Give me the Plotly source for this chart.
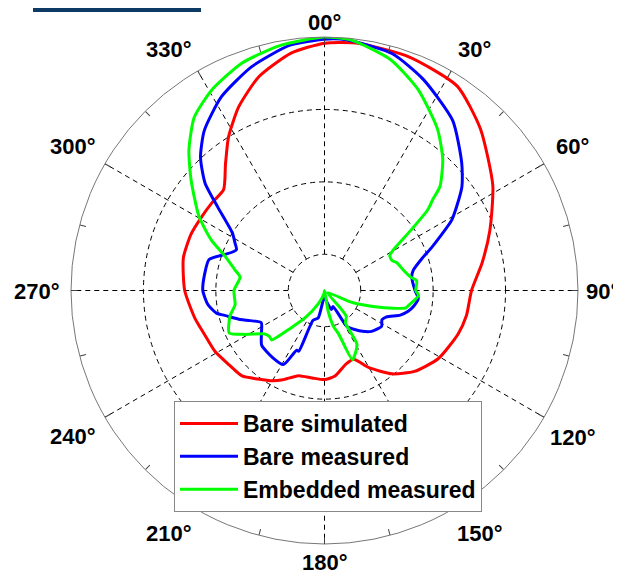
import plotly.graph_objects as go

# ---------------- data (dB vs angle in degrees, clockwise from top) -------------
red_theta = [0, 8, 20, 33, 44, 58, 70, 80, 90, 100, 108, 121, 132, 141, 150, 157, 164, 173,
             180, 188, 197, 205, 210, 217, 224, 232, 241, 250, 258, 270, 283, 293, 300, 308,
             315, 322, 328, 335, 343, 352, 360]
red_r = [-0.85, -0.55, -0.7, -1.35, -4.0, -7.6, -10.7, -12.9, -14.7, -15.1, -15.6, -16.7, -18.3,
         -20.2, -22.7, -24.7, -24.4, -23.1, -22.7, -22.8, -22.7, -21.4, -20.6, -19.7, -18.6,
         -18.3, -17.7, -17.35, -16.7, -15.7, -15.0, -15.0, -15.2, -15.3, -15.3, -12.8, -10.0,
         -7.0, -4.1, -1.9, -0.85]

blue_theta = [0, 5, 16, 25, 37, 47, 53, 61, 65, 68, 72, 77, 81, 90, 95, 100, 104, 108, 113,
              117, 122, 131, 137, 148, 149, 152, 160, 170, 180, 193, 201, 203, 205, 209, 218,
              229, 236, 243, 248, 251, 256, 258, 263, 270, 278, 285, 290, 293, 295, 298, 302,
              308, 312, 317, 323, 332, 342, 352, 360]
blue_r = [-0.3, -0.26, -1.0, -2.8, -5.6, -9.1, -11.25, -14.9, -17.4, -19.0, -20.9, -22.4, -22.8,
          -22.5, -22.0, -22.5, -23.1, -24.0, -25.7, -26.1, -25.7, -26.4, -27.3, -29.1, -30.4,
          -32.5, -32.2, -33.5, -34.2, -31.1, -30.6, -25.9, -25.9, -23.3, -23.3, -23.5, -24.5,
          -25.2, -23.9, -22.7, -20.8, -19.8, -18.8, -18.2, -18.3, -18.5, -20.4, -21.3, -21.6,
          -21.0, -20.0, -16.3, -12.8, -9.9, -7.4, -4.7, -2.5, -0.8, -0.3]

green_theta = [0, 6, 16, 25, 35, 42, 48, 50, 52, 55, 59.5, 62, 66, 69, 75, 81, 84, 90, 93, 100,
               102, 106, 112, 114, 125, 138, 140, 147, 149, 158, 162, 166, 170, 180, 190, 205,
               215, 222, 227, 230, 234, 241, 246, 255, 261, 270, 279, 283, 289, 294, 300.5,
               309.6, 316, 323, 330.6, 340, 350, 360]
green_r = [0.0, -0.2, -1.85, -4.4, -7.8, -10.6, -13.55, -15.5, -16.9, -20.35, -24.0, -24.8, -24.8,
           -24.3, -23.8, -23.0, -22.2, -22.4, -22.0, -23.2, -23.5, -26.4, -30.0, -31.2, -34.5,
           -31.5, -30.3, -29.7, -26.3, -24.7, -28.7, -29.9, -32.1, -35.0, -34.5, -33.0, -30.5,
           -28.0, -25.0, -25.1, -24.8, -22.5, -20.6, -21.5, -22.5, -22.5, -23.2, -22.3, -20.5,
           -17.9, -14.9, -11.1, -8.05, -5.1, -3.25, -1.6, -0.6, 0.0]

series_names = ["Bare simulated", "Bare measured", "Embedded measured"]
series_colors = ["#ff0000", "#0000ff", "#00ff00"]

r_range = [-35, 0]
ring_vals = [-30, -20, -10]
spoke_angles = list(range(0, 360, 30))
tick_angles = list(range(0, 360, 15))
label_text = ["00°", "30°", "60°", "90°", "120°", "150°",
              "180°", "210°", "240°", "270°", "300°", "330°"]

FONT = "Liberation Sans, Arial, sans-serif"
W, H = 621, 576
OFF = 8  # page body margin

# polar area geometry (page pixels)
PX0, PX1 = 71 - OFF, 578 - OFF
PY0, PY1 = 37 - OFF, 544 - OFF
# angle-label centres (page pixels), in the order of label_text
label_x = [324.5, 474, 572, 602, 572.5, 480, 325, 169, 73, 37, 73, 169]
label_y = [22, 50, 146.5, 291, 437, 533, 562, 533, 436, 291.5, 146.5, 50]

fig = go.Figure()

# dashed spokes from the inner ring to the outer circle
for a in spoke_angles:
    fig.add_trace(go.Scatterpolar(
        r=[ring_vals[0], r_range[1]], theta=[a, a], mode="lines",
        line=dict(color="black", width=1, dash="5px,4px"),
        showlegend=False, hoverinfo="skip"))

for th, rr, name, col in zip([red_theta, blue_theta, green_theta],
                             [red_r, blue_r, green_r], series_names, series_colors):
    fig.add_trace(go.Scatterpolar(
        r=rr, theta=th, mode="lines", name=name,
        line=dict(color=col, width=3, shape="spline", smoothing=0.6)))

annotations = [dict(x=(lx - OFF) / W, y=1 - (ly - OFF) / H, xref="paper", yref="paper",
                    text=txt, showarrow=False, xanchor="center", yanchor="middle",
                    font=dict(family=FONT, size=22, color="black", weight="bold"))
               for txt, lx, ly in zip(label_text, label_x, label_y)]

fig.update_layout(
    width=W, height=H,
    margin=dict(l=0, r=0, t=0, b=0),
    paper_bgcolor="white",
    polar=dict(
        domain=dict(x=[PX0 / W, PX1 / W], y=[1 - PY1 / H, 1 - PY0 / H]),
        bgcolor="white",
        radialaxis=dict(range=r_range, tickvals=ring_vals, showticklabels=False,
                        ticks="", showline=False, gridcolor="black", gridwidth=1,
                        griddash="5px,4px"),
        angularaxis=dict(direction="clockwise", rotation=90, tickmode="array",
                         tickvals=tick_angles, showticklabels=False, showgrid=False,
                         ticks="inside", ticklen=6, tickcolor="#444", tickwidth=1,
                         linecolor="#777", linewidth=1),
    ),
    legend=dict(x=(174 - OFF) / W, y=1 - (401 - OFF) / H, xanchor="left", yanchor="top",
                bgcolor="white", bordercolor="#888", borderwidth=1,
                font=dict(family=FONT, size=23, color="black", weight="bold"),
                itemwidth=58, tracegroupgap=0),
    annotations=annotations,
    shapes=[dict(type="rect", xref="paper", yref="paper", x0=(33 - OFF) / W,
                 x1=(201 - OFF) / W, y0=1 - 4 / H, y1=1, fillcolor="#0d3b66",
                 line=dict(width=0))],
)

fig.write_html("out.html")
